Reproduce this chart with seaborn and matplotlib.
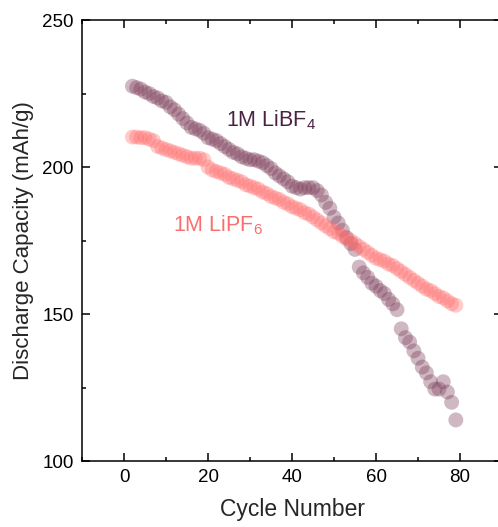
import numpy as np
import pandas as pd
import matplotlib
matplotlib.use("Agg")
import matplotlib.pyplot as plt
import seaborn as sns
from matplotlib.ticker import MultipleLocator

cycles_bf4 = list(range(2, 80))
cap_bf4 = [227.5, 227, 226.5, 225.5, 225, 224, 223.5, 222.5, 222, 220.5,
           219.5, 218, 216.5, 215, 213.5, 213, 212.5, 211.5, 210, 209.5,
           209, 208, 207, 206, 205, 204.5, 203.5, 203, 202.5, 202.5,
           202, 201.5, 200.5, 199.5, 198, 197, 196, 195, 193.5, 193,
           192.5, 193, 193, 193, 192, 190.5, 188, 186, 183, 181,
           178.5, 176, 174, 172, 166, 164, 162.5, 160.5, 159.5, 158,
           157, 155, 153.5, 151.5, 145, 142, 140.5, 137.5, 135, 132,
           130, 127, 124.5, 124.5, 127, 123.5, 120, 114]

cycles_pf6 = list(range(2, 80))
cap_pf6 = [210.2, 210.2, 210, 210, 209.5, 209, 207, 206.5, 206, 205.5,
           205, 204.5, 204, 203.5, 203, 203, 203, 202.5, 200, 199,
           198.5, 198, 197.5, 196.5, 196, 195.5, 195, 194, 193.5, 193,
           192.5, 191.5, 191, 190, 189.5, 189, 188, 187.5, 186.5, 186,
           185.5, 184.5, 184, 183, 182, 181, 180, 179, 178, 177.5,
           176.5, 175.5, 175, 174, 173, 172, 171, 170, 169, 168.5,
           168, 167, 166.5, 165.5, 164.5, 163.5, 162.5, 161.5, 160.5, 159.5,
           158.5, 158, 157, 156, 155.5, 154.5, 153.5, 153]

series_names = ["1M LiBF4", "1M LiPF6"]
colors = {"1M LiBF4": "#7a3a56", "1M LiPF6": "#ff6e6e"}
x_ticks = [0, 20, 40, 60, 80]
y_ticks = [100, 150, 200, 250]

df = pd.DataFrame({
    "Cycle": cycles_bf4 + cycles_pf6,
    "Capacity": cap_bf4 + cap_pf6,
    "Electrolyte": [series_names[0]] * len(cycles_bf4) + [series_names[1]] * len(cycles_pf6),
})

sns.set_style("white")
plt.rcParams['font.family'] = ['Liberation Sans', 'DejaVu Sans']
plt.rcParams['mathtext.fontset'] = 'custom'
plt.rcParams['mathtext.rm'] = 'Liberation Sans'
plt.rcParams['mathtext.it'] = 'Liberation Sans'
plt.rcParams['mathtext.bf'] = 'Liberation Sans'

fig = plt.figure(figsize=(4.98, 5.27), dpi=100)
ax = fig.add_axes([0.1647, 0.125, 0.8434, 0.837])

sns.scatterplot(data=df, x="Cycle", y="Capacity", hue="Electrolyte",
                palette=colors, s=115, alpha=0.36, edgecolor="none",
                legend=False, ax=ax, zorder=3)

ax.set_xlim(-10, 90)
ax.set_ylim(100, 250)
ax.set_xticks(x_ticks)
ax.set_yticks(y_ticks)
ax.xaxis.set_minor_locator(MultipleLocator(10))
ax.yaxis.set_minor_locator(MultipleLocator(25))
ax.tick_params(which="both", direction="in", top=True, right=True,
               bottom=True, left=True, width=1.1, colors="black",
               labelsize=13.5, pad=6)
ax.tick_params(which="major", length=6)
ax.tick_params(which="minor", length=3)
for sp in ax.spines.values():
    sp.set_linewidth(1.1)
    sp.set_color("black")
    sp.set_visible(True)

ax.set_xlabel("Cycle Number", fontsize=16.5, labelpad=8)
ax.set_ylabel("Discharge Capacity (mAh/g)", fontsize=16, labelpad=6)

ax.text(24.3, 213.7, "1M LiBF$_4$", fontsize=15.5, color="#4b2142",
        va="baseline", ha="left")
ax.text(11.6, 178, "1M LiPF$_6$", fontsize=15.5, color="#fa6e6e",
        va="baseline", ha="left")

fig.savefig("out.png", dpi=100)
